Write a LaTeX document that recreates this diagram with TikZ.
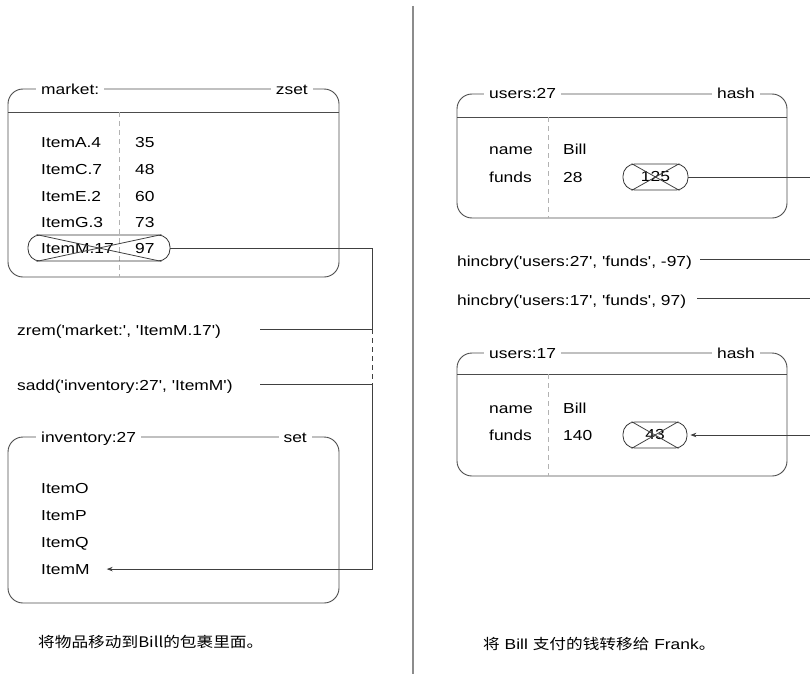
\documentclass[tikz,border=0pt]{standalone}
\usepackage{fontspec}
\setmainfont{Liberation Sans}[FakeStretch=1.2, Ligatures=TeXOff]
\newfontfamily\cjk{Noto Sans CJK SC}[FakeStretch=1.15]
\usetikzlibrary{arrows.meta,calc}
\tikzset{
	frame/.style={line width=0.9pt, color=black!70, rounded corners=15pt},
	rule/.style={line width=0.9pt, color=black!70},
	divider/.style={line width=0.8pt, color=black!30, dash pattern=on 5pt off 4pt},
	txt/.style={anchor=base west, inner sep=0pt, font=\fontsize{14.5}{17}\selectfont},
	title/.style={txt, fill=white, inner xsep=5pt, inner ysep=2pt},
	capsule/.style={draw, line width=0.8pt, color=black!80, text=black, rounded corners=12pt, inner sep=0pt, minimum height=26pt, font=\fontsize{14.5}{17}\selectfont},
	link/.style={line width=0.8pt, color=black!75},
	tip/.style={-{Stealth[length=6pt, width=4.5pt]}}
}
\def\strike(#1){\draw[link] ($(#1.north west)+(9,0)$) -- ($(#1.south east)+(-9,0)$); \draw[link] ($(#1.south west)+(9,0)$) -- ($(#1.north east)+(-9,0)$);}

\begin{document}
\begin{tikzpicture}[x=1pt, y=-1pt]
		%%%%% START %%%%%
		\useasboundingbox (0,0) rectangle (810,674);
		
		\draw[line width=1.5pt, color=black!45] (413,6) -- (413,674);
		
		% market: zset
		\draw[frame] (8,89) rectangle (339,277);
		\draw[rule] (8,112) -- (339,112);
		\draw[divider] (119,112) -- (119,277);
		\node[title] (marketName) at (36,95) {market:};
		\node[title, anchor=base east] (marketType) at (313,95) {zset};
		\node[txt] (keyA) at (41,147) {ItemA.4};
		\node[txt] (keyC) at (41,174) {ItemC.7};
		\node[txt] (keyE) at (41,201) {ItemE.2};
		\node[txt] (keyG) at (41,227) {ItemG.3};
		\node[txt] (keyM) at (41,253) {ItemM.17};
		\node[txt] (valA) at (135,147) {35};
		\node[txt] (valC) at (135,174) {48};
		\node[txt] (valE) at (135,201) {60};
		\node[txt] (valG) at (135,227) {73};
		\node[txt] (valM) at (135,253) {97};
		\node[capsule, minimum width=142pt] (capM) at (99,248) {};
		\strike(capM)
		
		% commands
		\node[txt] (zrem) at (17,335) {zrem('market:', 'ItemM.17')};
		\node[txt] (sadd) at (17,390) {sadd('inventory:27', 'ItemM')};
		\coordinate (zremEnd) at (260,329);
		\coordinate (saddEnd) at (260,384);
		\coordinate (drop) at (372,329);
		\coordinate (rise) at (372,384);
		
		% inventory:27 set
		\draw[frame] (8,437) rectangle (339,603);
		\node[title] (invName) at (36,442) {inventory:27};
		\node[title, anchor=base east] (invType) at (312,442) {set};
		\node[txt] (itemO) at (41,493) {ItemO};
		\node[txt] (itemP) at (41,520) {ItemP};
		\node[txt] (itemQ) at (41,547) {ItemQ};
		\node[txt] (itemM) at (41,574) {ItemM};
		
		\draw[link] (capM.east) -| (drop) -- (zremEnd);
		\draw[link, dash pattern=on 5pt off 4pt] (drop) -- (rise);
		\draw[link, tip] (saddEnd) -- (rise) |- ($(itemM.east)+(17,0)$);
		
		\node[txt, font=\cjk\fontsize{14.5}{17}\selectfont] (leftNote) at (38,647) {将物品移动到Bill的包裹里面。};
		
		% users:27 hash
		\draw[frame] (457,94) rectangle (787,218);
		\draw[rule] (457,117) -- (787,117);
		\draw[divider] (548,117) -- (548,218);
		\node[title] (u27Name) at (484,99) {users:27};
		\node[title, anchor=base east] (u27Type) at (760,99) {hash};
		\node[txt] (u27name) at (489,154) {name};
		\node[txt] (u27funds) at (489,182) {funds};
		\node[txt] (u27bill) at (563,154) {Bill};
		\node[txt] (u27val) at (563,182) {28};
		\node[capsule, minimum width=65pt] (old27) at (655.5,177) {125};
		\strike(old27)
		\coordinate (edge27) at (810,177);
		\draw[link] (old27.east) -- (edge27);
		
		% hincrby commands
		\node[txt] (hinc27) at (457,266) {hincbry('users:27', 'funds', -97)};
		\node[txt] (hinc17) at (457,305) {hincbry('users:17', 'funds', 97)};
		\coordinate (hinc27End) at (700,259);
		\coordinate (hinc17End) at (697,298);
		\draw[link] (hinc27End) -- (810,259);
		\draw[link] (hinc17End) -- (810,298);
		
		% users:17 hash
		\draw[frame] (457,353) rectangle (787,476);
		\draw[rule] (457,374) -- (787,374);
		\draw[divider] (548,374) -- (548,476);
		\node[title] (u17Name) at (484,358) {users:17};
		\node[title, anchor=base east] (u17Type) at (760,358) {hash};
		\node[txt] (u17name) at (489,413) {name};
		\node[txt] (u17funds) at (489,440) {funds};
		\node[txt] (u17bill) at (563,413) {Bill};
		\node[txt] (u17val) at (563,440) {140};
		\node[capsule, minimum width=64pt] (old17) at (655,435) {43};
		\strike(old17)
		\coordinate (edge17) at (810,435);
		\draw[link, tip] (edge17) -- ($(old17.east)+(3,0)$);
		
		\node[txt] (rightNote) at (483,649) {{\cjk 将} Bill {\cjk 支付的钱转移给} Frank{\cjk 。}};
		
		%%%%% END %%%%%
\end{tikzpicture}
\end{document}
